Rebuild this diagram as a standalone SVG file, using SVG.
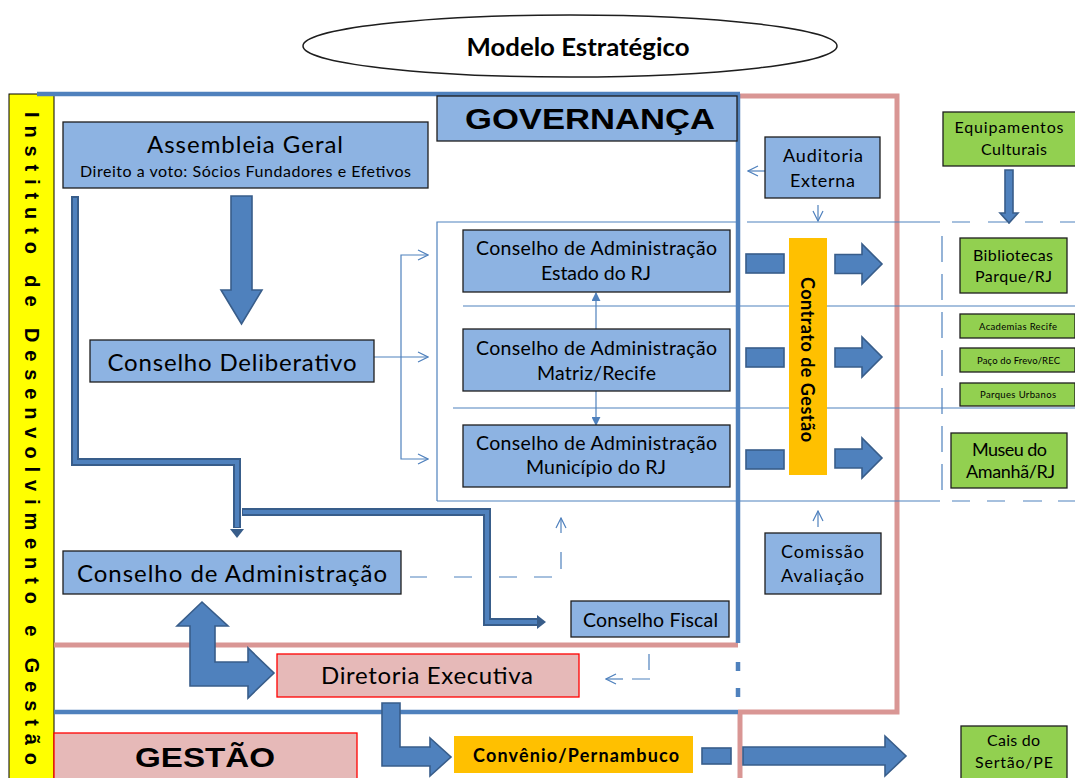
<svg xmlns="http://www.w3.org/2000/svg" width="1075" height="778" viewBox="0 0 1075 778">
  <defs>
    <style>
      text { font-family: Lato, "Liberation Sans", sans-serif; fill: #000; }
      .c { text-anchor: middle; }
      .box { fill: #8db3e2; stroke: #1e1e1e; stroke-width: 1.3; }
      .green { fill: #92d050; stroke: #1e1e1e; stroke-width: 1.3; }
      .rose { fill: #e6b9b8; stroke: #ff0000; stroke-width: 1.3; }
      .gold { fill: #ffc000; }
      .blk { fill: #4f81bd; stroke: #385d8a; stroke-width: 1.6; }
      .thin { fill: none; stroke: #4f81bd; stroke-width: 1.2; }
      .frameBlue { fill: none; stroke: #4f81bd; stroke-width: 4.5; }
      .framePink { fill: none; stroke: #d99694; stroke-width: 5; }
      .heavyOut { fill: none; stroke: #385d8a; stroke-width: 8; }
      .heavyIn { fill: none; stroke: #4f81bd; stroke-width: 4; }
      .big { font-family: "Liberation Sans", Arial, sans-serif; font-weight: bold; }
    </style>
    <marker id="open" viewBox="0 0 12 12" refX="11" refY="6" markerWidth="12" markerHeight="12" markerUnits="userSpaceOnUse" orient="auto">
      <path d="M1,1 L11,6 L1,11" fill="none" stroke="#4f81bd" stroke-width="1.2"/>
    </marker>
    <marker id="tri" viewBox="0 0 10 10" refX="9" refY="5" markerWidth="9" markerHeight="9" markerUnits="userSpaceOnUse" orient="auto">
      <path d="M0,0 L10,5 L0,10 Z" fill="#4f81bd"/>
    </marker>
  </defs>

  <!-- title -->
  <g id="title">
    <ellipse cx="570" cy="46" rx="267" ry="31" fill="#fff" stroke="#1e1e1e" stroke-width="1.5"/>
    <text x="578" y="56" class="c" font-size="24" font-weight="bold" textLength="223" lengthAdjust="spacingAndGlyphs">Modelo Estratégico</text>
  </g>

  <!-- organisation side band -->
  <g id="instituto">
    <rect x="9" y="94" width="45" height="700" fill="#ffff00" stroke="#000" stroke-width="1"/>
    <text transform="translate(24.5,112) rotate(90)" class="big" font-size="20" textLength="653" lengthAdjust="spacing">Instituto de Desenvolvimento e Gestão</text>
  </g>

  <!-- frame lines -->
  <g id="frames">
    <path class="framePink" d="M740,96 H897 V712 H738"/>
    <path class="framePink" d="M740,712 V778"/>
    <path class="framePink" d="M54,645 H738"/>
    <path class="frameBlue" d="M37,94 H740"/>
    <path class="frameBlue" d="M738,94 V643"/>
    <path class="frameBlue" d="M738,662 V671 M738,688 V697"/>
    <path class="frameBlue" d="M54,712 H738"/>
    <!-- council grid -->
    <path class="thin" d="M437,501 V222 H737 M747,222 H940 M437,501 H940"/>
    <path class="thin" d="M952,222 H970 M988,222 H1007 M1025,222 H1043 M1060,222 H1075"/>
    <path class="thin" d="M952,501 H970 M987,501 H1005 M1023,501 H1042 M1058,501 H1075"/>
    <path class="thin" d="M942,236 V500" stroke-dasharray="26 12"/>
    <path class="thin" d="M463,306 H1075"/>
    <path class="thin" d="M453,408 H1075"/>
  </g>

  <!-- connectors -->
  <g id="connectors">
    <!-- Assembleia to Conselho Deliberativo -->
    <polygon class="blk" points="231,196 252,196 252,290 262,290 241.5,324 221,290 231,290"/>
    <!-- Assembleia to Conselho de Administracao -->
    <path class="heavyOut" d="M75,196 V462 H237 V528"/>
    <path class="heavyIn" d="M75,198 V462 H237 V527"/>
    <path d="M230,529 L244,529 L237,538 Z" fill="#385d8a"/>
    <!-- to Conselho Fiscal -->
    <path class="heavyOut" d="M242,512 H487 V622 H537"/>
    <path class="heavyIn" d="M243,512 H487 V622 H537"/>
    <path d="M537,615 L546,622 L537,629 Z" fill="#385d8a"/>
    <!-- Deliberativo to the three councils -->
    <path class="thin" marker-end="url(#open)" d="M374,357 H428"/>
    <path class="thin" marker-end="url(#open)" d="M401,357 V255 H428"/>
    <path class="thin" marker-end="url(#open)" d="M401,357 V459 H428"/>
    <!-- Matriz to the state and city councils -->
    <path class="thin" marker-end="url(#tri)" d="M596,329 V293"/>
    <path class="thin" marker-end="url(#tri)" d="M596,391 V425"/>
    <!-- Auditoria -->
    <path class="thin" marker-end="url(#open)" d="M765,171 H748"/>
    <path class="thin" marker-end="url(#open)" d="M818,205 V221"/>
    <!-- Comissao -->
    <path class="thin" marker-end="url(#open)" d="M818,527 V511"/>
    <!-- Conselho de Administracao dashed feedback -->
    <path class="thin" d="M410,577 H427 M454,577 H472 M499,577 H517 M534,577 H552 M561,569 V552"/>
    <path class="thin" marker-end="url(#open)" d="M561,533 V518"/>
    <!-- Conselho Fiscal dashed to Diretoria -->
    <path class="thin" d="M649,654 V670 M632,679 H650"/>
    <path class="thin" marker-end="url(#open)" d="M623,679 H606"/>
    <!-- Conselho de Administracao <-> Diretoria -->
    <polygon class="blk" points="202,602 228,626 215,626 215,662 248,662 248,648 274,673 248,698 248,686 190,686 190,626 177,626"/>
    <!-- Diretoria to Convenio -->
    <polygon class="blk" points="382,703 400,703 400,747 430,747 430,738 451,757 430,776 430,766 382,766"/>
    <!-- contract arrows -->
    <rect class="blk" x="746" y="254" width="38" height="19"/>
    <rect class="blk" x="746" y="348" width="38" height="19"/>
    <rect class="blk" x="746" y="450" width="38" height="19"/>
    <polygon class="blk" points="835,254.5 862,254.5 862,244 882,264 862,284 862,273.5 835,273.5"/>
    <polygon class="blk" points="835,348 862,348 862,337 882,357 862,377 862,367 835,367"/>
    <polygon class="blk" points="835,449 862,449 862,438 882,458 862,478 862,468 835,468"/>
    <!-- equipamentos down -->
    <polygon class="blk" points="1005,170 1013,170 1013,213 1018,213 1009,223 1000,213 1005,213"/>
    <!-- convenio right -->
    <rect class="blk" x="702" y="748" width="29" height="16"/>
    <polygon class="blk" points="743,747 885,747 885,736 906,756 885,776 885,765 743,765"/>
  </g>

  <!-- governance nodes -->
  <g id="governanca">
    <rect class="box" x="437" y="96" width="300" height="45"/>
    <text x="590" y="129" class="c big" font-size="29" textLength="250" lengthAdjust="spacingAndGlyphs">GOVERNANÇA</text>
  </g>
  <g id="assembleia">
    <rect class="box" x="63" y="122" width="365" height="66"/>
    <text x="245" y="153" class="c" font-size="24" textLength="196">Assembleia Geral</text>
    <text x="245.5" y="177" class="c" font-size="16" textLength="331">Direito a voto: Sócios Fundadores e Efetivos</text>
  </g>
  <g id="deliberativo">
    <rect class="box" x="90" y="340" width="284" height="42"/>
    <text x="232" y="371" class="c" font-size="24" textLength="249">Conselho Deliberativo</text>
  </g>
  <g id="ca-estado">
    <rect class="box" x="463" y="230" width="267" height="62"/>
    <text x="596.5" y="255" class="c" font-size="19.5" textLength="241">Conselho de Administração</text>
    <text x="596" y="280" class="c" font-size="19.5" textLength="110">Estado do RJ</text>
  </g>
  <g id="ca-matriz">
    <rect class="box" x="463" y="329" width="267" height="62"/>
    <text x="596.5" y="355" class="c" font-size="19.5" textLength="241">Conselho de Administração</text>
    <text x="596.5" y="380" class="c" font-size="19.5" textLength="119">Matriz/Recife</text>
  </g>
  <g id="ca-municipio">
    <rect class="box" x="463" y="425" width="267" height="62"/>
    <text x="596.5" y="450" class="c" font-size="19.5" textLength="241">Conselho de Administração</text>
    <text x="596" y="474" class="c" font-size="19.5" textLength="140">Município do RJ</text>
  </g>
  <g id="contrato">
    <rect class="gold" x="789" y="238" width="38" height="237"/>
    <text transform="translate(801,359.5) rotate(90)" class="c" font-size="18" font-weight="bold" textLength="165">Contrato de Gestão</text>
  </g>
  <g id="auditoria">
    <rect class="box" x="765" y="137" width="115" height="61"/>
    <text x="823" y="162" class="c" font-size="18" textLength="80">Auditoria</text>
    <text x="822.5" y="187" class="c" font-size="18" textLength="65">Externa</text>
  </g>
  <g id="comissao">
    <rect class="box" x="765" y="533" width="116" height="61"/>
    <text x="822.5" y="558" class="c" font-size="18" textLength="83">Comissão</text>
    <text x="822.5" y="582" class="c" font-size="18" textLength="83">Avaliação</text>
  </g>
  <g id="conselho-administracao">
    <rect class="box" x="63" y="551" width="338" height="43"/>
    <text x="232" y="582" class="c" font-size="24" textLength="310">Conselho de Administração</text>
  </g>
  <g id="conselho-fiscal">
    <rect class="box" x="571" y="601" width="158" height="36"/>
    <text x="650.5" y="627" class="c" font-size="19.5" textLength="135">Conselho Fiscal</text>
  </g>

  <!-- management nodes -->
  <g id="diretoria">
    <rect class="rose" x="277" y="654" width="302" height="43"/>
    <text x="427" y="684" class="c" font-size="24" textLength="212">Diretoria Executiva</text>
  </g>
  <g id="gestao">
    <rect class="rose" x="54" y="733" width="303" height="60"/>
    <text x="205" y="767" class="c big" font-size="27" textLength="140" lengthAdjust="spacingAndGlyphs">GESTÃO</text>
  </g>
  <g id="convenio">
    <rect class="gold" x="454" y="736" width="239" height="37"/>
    <text x="576" y="762" class="c" font-size="18" font-weight="bold" textLength="206">Convênio/Pernambuco</text>
  </g>

  <!-- cultural facilities -->
  <g id="equipamentos">
    <rect class="green" x="943" y="112" width="133" height="54"/>
    <text x="1009" y="133" class="c" font-size="16" textLength="109">Equipamentos</text>
    <text x="1014" y="155" class="c" font-size="16" textLength="66">Culturais</text>
  </g>
  <g id="bibliotecas">
    <rect class="green" x="960" y="238" width="107" height="55"/>
    <text x="1013" y="261" class="c" font-size="16" textLength="80">Bibliotecas</text>
    <text x="1013.5" y="282" class="c" font-size="16" textLength="77">Parque/RJ</text>
  </g>
  <g id="academias">
    <rect class="green" x="960" y="314" width="115" height="24"/>
    <text x="1018" y="330" class="c" font-size="9.5" textLength="78">Academias Recife</text>
  </g>
  <g id="paco-frevo">
    <rect class="green" x="960" y="348" width="115" height="24"/>
    <text x="1018.5" y="364" class="c" font-size="9.5" textLength="83">Paço do Frevo/REC</text>
  </g>
  <g id="parques">
    <rect class="green" x="960" y="383" width="115" height="23"/>
    <text x="1018" y="398" class="c" font-size="9.5" textLength="76">Parques Urbanos</text>
  </g>
  <g id="museu">
    <rect class="green" x="951" y="433" width="116" height="55"/>
    <text x="1009.5" y="456" class="c" font-size="18" textLength="75">Museu do</text>
    <text x="1010.5" y="478" class="c" font-size="18" textLength="89">Amanhã/RJ</text>
  </g>
  <g id="cais">
    <rect class="green" x="961" y="726" width="106" height="60"/>
    <text x="1013.5" y="746" class="c" font-size="16" textLength="53">Cais do</text>
    <text x="1014" y="768" class="c" font-size="16" textLength="78">Sertão/PE</text>
  </g>
</svg>
